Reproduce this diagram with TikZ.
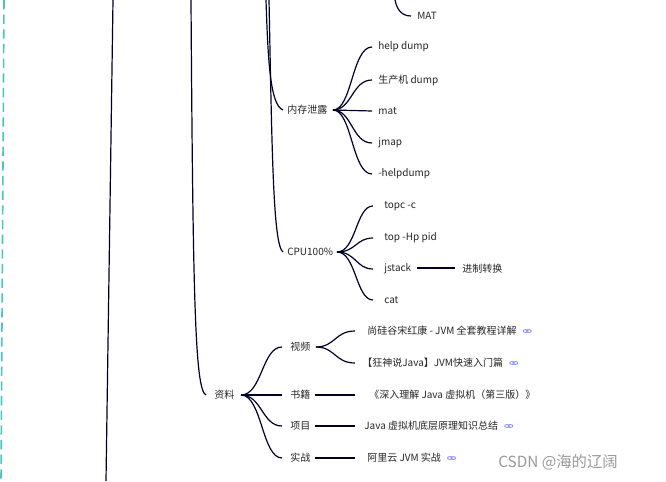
\documentclass[tikz,border=0pt]{standalone}
\usepackage{fontspec}
\setmainfont{Noto Sans CJK SC}
\definecolor{tealdash}{HTML}{4CC4C4}
\begin{document}
\begin{tikzpicture}[x=0.75pt,y=-0.75pt,
  t/.style={anchor=west,inner sep=0pt,font=\fontsize{7.5pt}{9pt}\selectfont,text=black!85},
  br/.style={draw=black!85!blue,line width=0.9pt},
  lk/.style={draw=blue!45,line width=0.6pt}]
\useasboundingbox (0,0) rectangle (666,481);
\fill[white] (0,0) rectangle (666,481);
% trunk lines
\draw[tealdash,line width=1.2pt,dash pattern=on 7pt off 4pt] (4,0) -- (1,481);
\coordinate (a0) at (113,0); \coordinate (a1) at (106,481);
\draw[br] (a0) -- (a1);
\coordinate (b0) at (191,0);
\node[t] (zl) at (214,395) {资料};
\coordinate (zlw) at (206,395);
\draw[br] (b0) .. controls (193,300) and (195,390) .. (zlw);
\coordinate (c0) at (266,0);
\node[t] (nc) at (287,110) {内存泄露};
\node[t] (cpu) at (287,252) {CPU100\%};
\coordinate (ncw) at (283,110); \coordinate (cpuw) at (283,252);
\draw[br] (c0) .. controls (268,60) and (270,105) .. (ncw);
\coordinate (c1) at (269,0);
\draw[br] (c1) .. controls (272,150) and (273,245) .. (cpuw);
\coordinate (m0) at (395,0); \coordinate (mw) at (411,16);
\draw[br] (m0) .. controls (397,10) and (402,16) .. (mw);
\node[t] (mat0) at (417,16) {MAT};
% 内存泄露 children
\coordinate (nce) at (333,110);
\foreach \n/\y/\s in {h1/47/help dump,h2/80/生产机 dump,h3/111/mat,h4/143/jmap,h5/174/-helpdump}{
  \node[t] (\n) at (378,\y) {\s};
  \coordinate (\n w) at (372,\y);
  \draw[br] (nce) .. controls (352,110) and (352,\y) .. (\n w);
}
% CPU children
\coordinate (cpue) at (337,252);
\foreach \n/\y/\s in {p1/206/topc -c,p2/238/top -Hp pid,p3/269/jstack,p4/300/cat}{
  \node[t] (\n) at (384,\y) {\s};
  \coordinate (\n w) at (373,\y);
  \draw[br] (cpue) .. controls (356,252) and (356,\y) .. (\n w);
}
\node[t] (jz) at (462,269) {进制转换};
\coordinate (p3e) at (417,268); \coordinate (jzw) at (455,268);
\draw[br] (p3e) -- (jzw);
% 资料 children
\coordinate (zle) at (241,395);
\foreach \n/\y/\s in {v/347/视频,b/395/书籍,x/426/项目,s/458/实战}{
  \node[t] (\n) at (290,\y) {\s};
  \coordinate (\n w) at (282,\y);
  \draw[br] (zle) .. controls (262,395) and (262,\y) .. (\n w);
}
\coordinate (ve) at (316,347);
\coordinate (v1w) at (355,331); \coordinate (v2w) at (355,363);
\draw[br] (ve) .. controls (335,347) and (335,331) .. (v1w);
\draw[br] (ve) .. controls (335,347) and (335,363) .. (v2w);
\node[t] (v1) at (367,331) {尚硅谷宋红康 - JVM 全套教程详解};
\node[t] (v2) at (362,363) {【狂神说Java】JVM快速入门篇};
\coordinate (be) at (315,395); \coordinate (bw) at (355,395);
\draw[br] (be) -- (bw);
\node[t] (b1) at (369,395) {《深入理解 Java 虚拟机（第三版）》};
\coordinate (xe) at (315,426); \coordinate (xw) at (355,426);
\draw[br] (xe) -- (xw);
\node[t] (x1) at (364,426) {Java 虚拟机底层原理知识总结};
\coordinate (se) at (315,458); \coordinate (sw) at (355,458);
\draw[br] (se) -- (sw);
\node[t] (s1) at (367,458) {阿里云 JVM 实战};
% link icons
\foreach \n in {v1,v2,x1,s1}{
  \draw[lk] ([xshift=6.5pt]\n.east) ellipse (1.8pt and 1.1pt);
  \draw[lk] ([xshift=9pt]\n.east) ellipse (1.8pt and 1.1pt);
}
\node[anchor=west,inner sep=0pt,font=\fontsize{11.5pt}{12pt}\selectfont,text=black!40] (wm) at (498,462) {CSDN @海的辽阔};
\end{tikzpicture}
\end{document}
